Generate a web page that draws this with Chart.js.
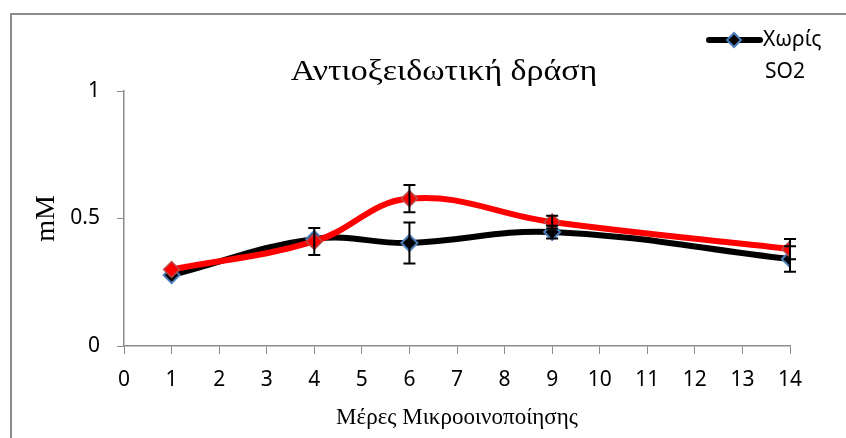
<!DOCTYPE html>
<html>
<head>
<meta charset="utf-8">
<script src="https://cdn.jsdelivr.net/npm/chart.js@4.4.0/dist/chart.umd.min.js"></script>
<style>
  html, body { margin: 0; padding: 0; background: #fff; }
  #wrap { width: 846px; height: 438px; }
</style>
</head>
<body>
<div id="wrap"><canvas id="myLineChart" width="846" height="438"></canvas></div>
<script>
// data
const days = [1, 4, 6, 9, 14];
const noSO2 = [0.278, 0.42, 0.404, 0.447, 0.341];
const noSO2Err = [0, 0, 0.08, 0.025, 0.05];
const withSO2 = [0.30, 0.41, 0.578, 0.486, 0.38];
const withSO2Err = [0, 0.053, 0.053, 0.025, 0.04];
const xTicks = [0, 1, 2, 3, 4, 5, 6, 7, 8, 9, 10, 11, 12, 13, 14];
const yTicks = [0, 0.5, 1];

const tickFont = { family: 'Noto Sans', size: 21 };
const serif = 'Liberation Serif';

// frame, title, legend, error bars
const extras = {
  id: 'extras',
  beforeDraw(chart) {
    const ctx = chart.ctx;
    ctx.save();
    ctx.strokeStyle = '#8c8c8c';
    ctx.lineWidth = 2;
    ctx.beginPath();
    ctx.moveTo(11, 440);
    ctx.lineTo(11, 14);
    ctx.lineTo(850, 14);
    ctx.stroke();

    ctx.fillStyle = '#000';
    ctx.font = '29px "' + serif + '"';
    ctx.textAlign = 'center';
    ctx.textBaseline = 'alphabetic';
    ctx.save();
    ctx.translate(444, 80);
    ctx.scale(1.17, 1);
    ctx.fillText('Αντιοξειδωτική δράση', 0, 0);
    ctx.restore();

    // legend
    ctx.strokeStyle = '#000';
    ctx.lineWidth = 6;
    ctx.lineCap = 'round';
    ctx.beginPath();
    ctx.moveTo(709, 40);
    ctx.lineTo(760, 40);
    ctx.stroke();
    ctx.beginPath();
    ctx.moveTo(734, 33); ctx.lineTo(741, 40); ctx.lineTo(734, 47); ctx.lineTo(727, 40); ctx.closePath();
    ctx.fillStyle = '#000';
    ctx.fill();
    ctx.lineWidth = 2;
    ctx.strokeStyle = '#4a7ebb';
    ctx.stroke();
    ctx.fillStyle = '#000';
    ctx.font = '21px "Noto Sans"';
    ctx.textAlign = 'left';
    ctx.textBaseline = 'middle';
    ctx.fillText('Χωρίς', 763, 40);
    ctx.fillText('SO2', 765, 72);
    ctx.restore();
  },
  afterDatasetsDraw(chart) {
    const ctx = chart.ctx;
    const xs = chart.scales.x, ys = chart.scales.y;
    const sets = [[noSO2, noSO2Err], [withSO2, withSO2Err]];
    ctx.save();
    ctx.strokeStyle = '#000';
    ctx.lineWidth = 2;
    sets.forEach(([vals, errs]) => {
      vals.forEach((v, i) => {
        if (!errs[i]) return;
        const x = xs.getPixelForValue(days[i]);
        const y1 = ys.getPixelForValue(v + errs[i]);
        const y2 = ys.getPixelForValue(v - errs[i]);
        ctx.beginPath();
        ctx.moveTo(x, y1); ctx.lineTo(x, y2);
        ctx.moveTo(x - 6, y1); ctx.lineTo(x + 6, y1);
        ctx.moveTo(x - 6, y2); ctx.lineTo(x + 6, y2);
        ctx.stroke();
      });
    });
    ctx.restore();
  }
};

const ctx = document.getElementById('myLineChart').getContext('2d');
const myLineChart = new Chart(ctx, {
  type: 'line',
  data: {
    datasets: [
      {
        label: 'Με SO2',
        data: days.map((d, i) => ({ x: d, y: withSO2[i] })),
        borderColor: '#ff0000',
        borderWidth: 6,
        tension: 0.4,
        fill: false,
        pointStyle: 'rectRot',
        pointRadius: 8,
        pointBackgroundColor: '#ff0000',
        pointBorderColor: '#b84a4a',
        pointBorderWidth: 1.5
      },
      {
        label: 'Χωρίς SO2',
        data: days.map((d, i) => ({ x: d, y: noSO2[i] })),
        borderColor: '#000000',
        borderWidth: 6,
        tension: 0.4,
        fill: false,
        pointStyle: 'rectRot',
        pointRadius: 8,
        pointBackgroundColor: '#000000',
        pointBorderColor: '#4a7ebb',
        pointBorderWidth: 2
      }
    ]
  },
  options: {
    responsive: false,
    animation: false,
    layout: { padding: { left: 10, right: 56, top: 91, bottom: 0 } },
    plugins: {
      legend: { display: false },
      tooltip: { enabled: false }
    },
    scales: {
      x: {
        type: 'linear',
        min: 0,
        max: 14,
        afterFit: s => { s.height = 92; },
        afterBuildTicks: s => { s.ticks = xTicks.map(v => ({ value: v })); },
        ticks: { font: tickFont, color: '#000', padding: 13, maxRotation: 0, autoSkip: false },
        grid: { drawOnChartArea: false, drawTicks: true, tickLength: 8, color: '#8c8c8c' },
        border: { color: '#8c8c8c', width: 1.5 },
        title: {
          display: true,
          text: 'Μέρες Μικροοινοποίησης',
          font: { family: serif, size: 23 },
          color: '#000',
          padding: { top: 0, bottom: 6 }
        }
      },
      y: {
        min: 0,
        max: 1,
        afterFit: s => { s.width = 114; },
        afterBuildTicks: s => { s.ticks = yTicks.map(v => ({ value: v })); },
        ticks: { font: tickFont, color: '#000', padding: 17, callback: v => String(v) },
        grid: { drawOnChartArea: false, drawTicks: true, tickLength: 7, color: '#8c8c8c' },
        border: { color: '#8c8c8c', width: 1.5 },
        title: {
          display: true,
          text: 'mM',
          font: { family: serif, size: 28 },
          color: '#000',
          padding: { top: 20, bottom: 0 }
        }
      }
    }
  },
  plugins: [extras]
});
</script>
</body>
</html>
